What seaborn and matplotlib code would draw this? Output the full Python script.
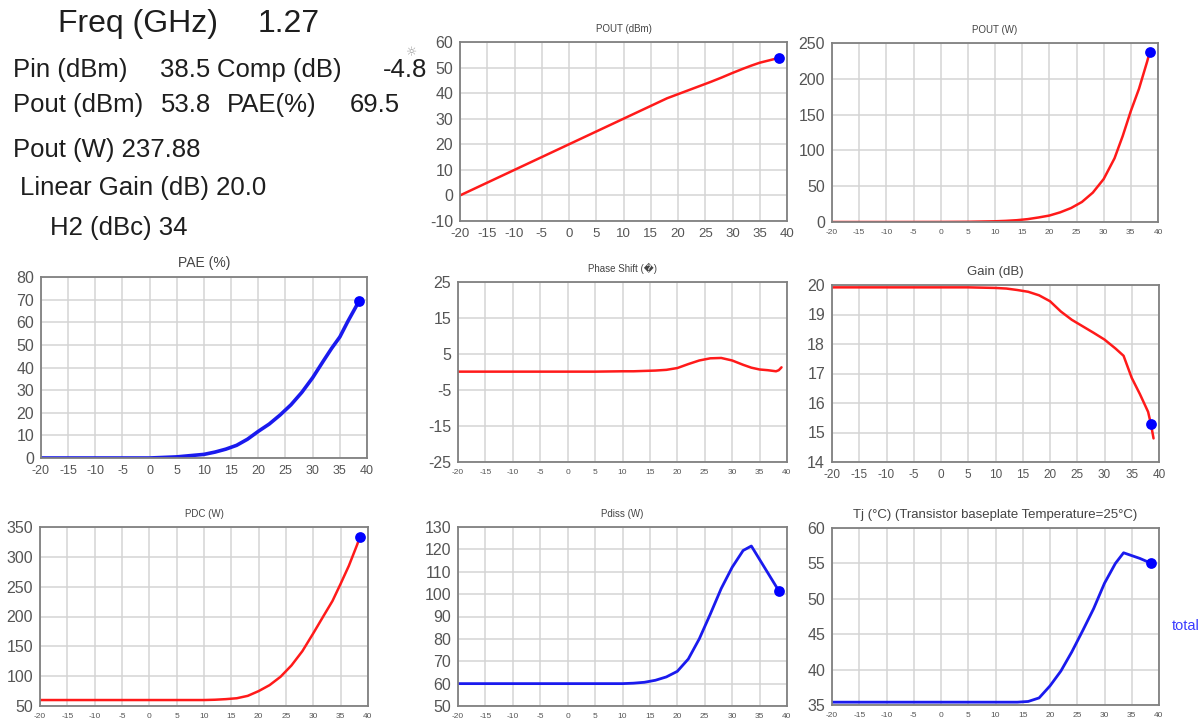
import matplotlib
matplotlib.use("Agg")
import matplotlib.pyplot as plt
from matplotlib.ticker import MultipleLocator, AutoMinorLocator, FixedLocator
import numpy as np
import pandas as pd
import seaborn as sns

# swept input power (dBm)
pin = [-20, -10, 0, 5, 10, 12, 14, 16, 18, 20, 22, 24, 26, 28, 30, 32, 33.5, 35, 36.5, 38, 38.5]
pout_dbm = [0, 10, 20, 25, 30, 32, 34, 36, 38, 39.6, 41.2, 42.8, 44.4, 46.1, 47.9, 49.6, 50.8, 51.9, 52.7, 53.5, 53.8]
pout_w = [0, 0, 0.1, 0.3, 1, 1.6, 2.5, 4, 6.3, 9, 13.5, 19.5, 28, 41, 60, 89, 120, 155, 186, 224, 237.88]
pae = [0, 0, 0, 0.5, 1.6, 2.6, 3.9, 5.6, 8.3, 11.8, 15, 19, 23.5, 29, 35.5, 43, 48.5, 53.5, 60.5, 67, 69.5]
pdc = [60, 60, 60, 60, 60, 60.5, 61.5, 63, 67, 75, 85, 99, 118, 142, 172, 203, 226, 255, 285, 320, 333]
pdiss = [60, 60, 60, 60, 60, 60.2, 60.6, 61.5, 63, 65.5, 71, 80, 91, 102.5, 112, 119.5, 121.5, 115.5, 109.5, 103.5, 101.5]
tj = [35.4, 35.4, 35.4, 35.4, 35.4, 35.4, 35.4, 35.5, 36, 37.7, 39.8, 42.5, 45.5, 48.6, 52.2, 55, 56.5, 56.1, 55.7, 55.2, 55]
# phase and gain traces run a little past the marked point
pin_ext = pin + [39]
phase = [0.1, 0.1, 0.1, 0.1, 0.2, 0.2, 0.3, 0.4, 0.6, 1.1, 2.2, 3.2, 3.8, 3.9, 3.2, 2.0, 1.2, 0.7, 0.5, 0.2, 0.5, 1.3]
gain = [19.92, 19.92, 19.92, 19.92, 19.9, 19.88, 19.83, 19.77, 19.65, 19.45, 19.1, 18.82, 18.6, 18.38, 18.15, 17.85, 17.6, 16.85, 16.3, 15.7, 15.3, 14.8]
marked_pin = 38.5

summary_rows = [
    ("Pin (dBm)", "38.5", "Comp (dB)", "-4.8"),
    ("Pout (dBm)", "53.8", "PAE(%)", "69.5"),
]

sns.set_style("white")
plt.rcParams["font.family"] = ["Liberation Sans", "DejaVu Sans"]
plt.rcParams["axes.unicode_minus"] = False

W, H = 1202, 726
fig = plt.figure(figsize=(W / 100, H / 100), dpi=100)

RED = "#ff1a1a"
BLUE = "#1a1aee"
MARK = "#0000ff"


def px_axes(l, t, r, b):
    return fig.add_axes([l / W, 1 - b / H, (r - l) / W, (b - t) / H])


def panel(box, x, y, color, lw, title, tsize, ylim, ystep, yminor, xsize, mark=True):
    ax = px_axes(*box)
    df = pd.DataFrame({"pin": x, "val": y})
    sns.lineplot(data=df, x="pin", y="val", ax=ax, color=color, lw=lw,
                 estimator=None, sort=False)
    if mark:
        pt = df[df["pin"] == marked_pin]
        sns.scatterplot(data=pt, x="pin", y="val", ax=ax, color=MARK, s=60,
                        edgecolor=MARK, linewidth=0, zorder=5)
    ax.set_xlim(-20, 40)
    ax.set_ylim(*ylim)
    ax.xaxis.set_major_locator(MultipleLocator(5))
    ax.yaxis.set_major_locator(FixedLocator(np.arange(ylim[0], ylim[1] + ystep / 2, ystep)))
    ax.yaxis.set_minor_locator(AutoMinorLocator(yminor))
    ax.grid(True, which="major", color="#d4d4d4", lw=1.1)
    ax.set_axisbelow(True)
    for s in ax.spines.values():
        s.set_color("#808080")
        s.set_linewidth(1.3)
    ax.tick_params(axis="y", which="major", direction="out", length=4, width=1,
                   color="#808080", labelsize=11.5, labelcolor="#555555", pad=1)
    ax.tick_params(axis="y", which="minor", direction="out", length=2, width=0.8,
                   color="#808080")
    ax.tick_params(axis="x", which="major", direction="out", length=3, width=1,
                   color="#808080", labelsize=xsize, labelcolor="#555555", pad=2)
    ax.yaxis.set_major_formatter(lambda v, p: f"{v:g}")
    ax.set_xlabel("")
    ax.set_ylabel("")
    ax.set_title(title, fontsize=tsize, color="#444444", pad=7)
    return ax


panel((460, 42, 787, 221), pin, pout_dbm, RED, 1.8, "POUT (dBm)", 7, (-10, 60), 10, 5, 9.5)
panel((832, 43, 1158, 222), pin, pout_w, RED, 1.8, "POUT (W)", 7, (0, 250), 50, 5, 6)
panel((41, 277, 367, 458), pin, pae, BLUE, 2.6, "PAE (%)", 10, (0, 80), 10, 2, 9)
panel((458, 282, 787, 462), pin_ext, phase, RED, 1.8, "Phase Shift (\ufffd)", 7, (-25, 25), 10, 5, 6, mark=False)
panel((832, 285, 1159, 462), pin_ext, gain, RED, 1.8, "Gain (dB)", 9.5, (14, 20), 1, 2, 8.5)
panel((40, 527, 368, 706), pin, pdc, RED, 1.8, "PDC (W)", 7, (50, 350), 50, 2, 6)
panel((458, 527, 787, 706), pin, pdiss, BLUE, 2.0, "Pdiss (W)", 7, (50, 130), 10, 2, 6)
panel((832, 528, 1159, 705), pin, tj, BLUE, 2.0,
      "Tj (\u00b0C) (Transistor baseplate Temperature=25\u00b0C)", 9.5, (35, 60), 5, 5, 6)


def ftext(x, y, s, size, color="#1e1e1e", **kw):
    fig.text(x / W, 1 - y / H, s, fontsize=size, color=color, va="baseline", ha="left", **kw)


ftext(58, 32, "Freq (GHz)", 23)
ftext(258, 32, "1.27", 23)
xs = [13, 160, 217, 383]
xs2 = [13, 161, 227, 350]
for row, base, cols in ((summary_rows[0], 77, xs), (summary_rows[1], 112, xs2)):
    for s, x in zip(row, cols):
        ftext(x, base, s, 18.5)
ftext(13, 157, "Pout (W) 237.88", 18.5)
ftext(20, 195, "Linear Gain (dB) 20.0", 18.5)
ftext(50, 235, "H2 (dBc) 34", 18.5)
ftext(406, 56, "\u263c", 9, color="#9a9a9a", family=["DejaVu Sans"])
ftext(1172, 630, "total", 10.5, color="#3a3aff")

fig.savefig("out.png", dpi=100)
